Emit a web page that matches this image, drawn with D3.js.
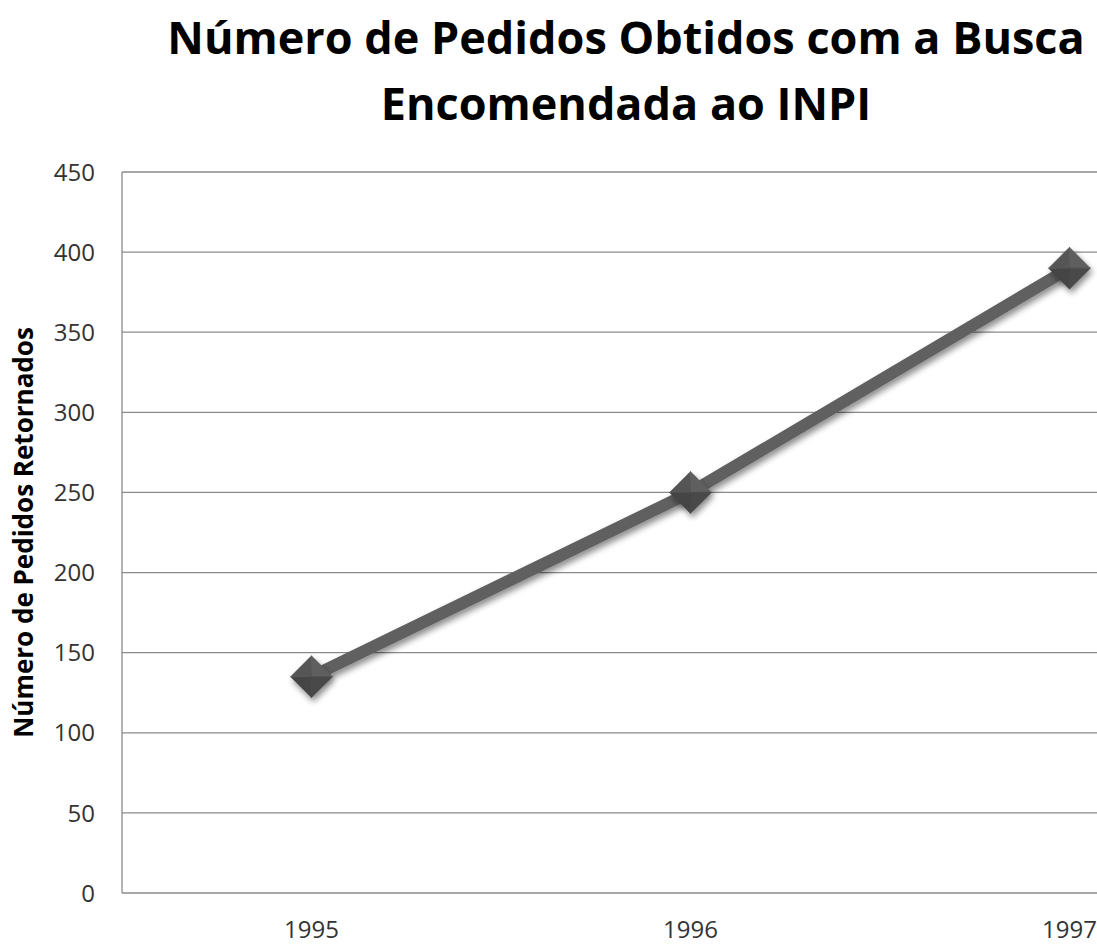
<!DOCTYPE html>
<html>
<head>
<meta charset="utf-8">
<script src="https://cdn.jsdelivr.net/npm/d3@7"></script>
<style>
  html, body { margin: 0; padding: 0; background: #fff; }
  svg { display: block; }
</style>
</head>
<body>
<div id="chart"></div>
<script>
var years = ['1995', '1996', '1997']
var pedidos = [135, 250, 390]
var yTicks = [0, 50, 100, 150, 200, 250, 300, 350, 400, 450]
var titleLines = ['Número de Pedidos Obtidos com a Busca', 'Encomendada ao INPI']
var yTitle = 'Número de Pedidos Retornados'

var width = 1097
var height = 944
var plot = { left: 122, top: 172, bottom: 893, right: 122 + 379 * 3 }

var svg = d3.select('#chart').append('svg')
  .attr('width', width)
  .attr('height', height)

var defs = svg.append('defs')
var shadow = defs.append('filter').attr('id', 'shadow')
  .attr('x', '-50%').attr('y', '-50%').attr('width', '200%').attr('height', '200%')
shadow.append('feGaussianBlur').attr('in', 'SourceAlpha').attr('stdDeviation', 3)
shadow.append('feOffset').attr('dx', 2).attr('dy', 4).attr('result', 'blur')
shadow.append('feComponentTransfer').append('feFuncA').attr('type', 'linear').attr('slope', 0.45)
var merge = shadow.append('feMerge')
merge.append('feMergeNode')
merge.append('feMergeNode').attr('in', 'SourceGraphic')

var x = d3.scalePoint()
  .domain(years)
  .range([plot.left, plot.right])
  .padding(0.5)

var y = d3.scaleLinear()
  .domain([0, 450])
  .range([plot.bottom, plot.top])

// gridlines
svg.append('g')
  .selectAll('line')
  .data(yTicks)
  .enter().append('line')
  .attr('x1', plot.left)
  .attr('x2', width)
  .attr('y1', function (d) { return y(d) })
  .attr('y2', function (d) { return y(d) })
  .attr('stroke', '#8a8a8a')
  .attr('stroke-width', 1.3)

svg.append('line')
  .attr('x1', plot.left).attr('x2', plot.left)
  .attr('y1', plot.top).attr('y2', plot.bottom)
  .attr('stroke', '#8a8a8a')
  .attr('stroke-width', 1.3)

// y tick labels
svg.append('g')
  .selectAll('text')
  .data(yTicks)
  .enter().append('text')
  .attr('x', 95)
  .attr('y', function (d) { return y(d) })
  .attr('dy', '0.36em')
  .attr('text-anchor', 'end')
  .style('font-family', 'Open Sans, sans-serif')
  .style('font-size', '24px')
  .style('fill', '#333')
  .text(function (d) { return d })

// x tick labels
svg.append('g')
  .selectAll('text')
  .data(years)
  .enter().append('text')
  .attr('x', function (d) { return x(d) })
  .attr('y', 938)
  .attr('text-anchor', 'middle')
  .style('font-family', 'Open Sans, sans-serif')
  .style('font-size', '24px')
  .style('fill', '#333')
  .text(function (d) { return d })

// y title
svg.append('text')
  .attr('transform', 'translate(33,' + ((plot.top + plot.bottom) / 2) + ') rotate(-90)')
  .attr('text-anchor', 'middle')
  .style('font-family', 'Open Sans, sans-serif')
  .style('font-weight', 'bold')
  .style('font-size', '26px')
  .style('fill', '#000')
  .text(yTitle)

// title
svg.append('g')
  .selectAll('text')
  .data(titleLines)
  .enter().append('text')
  .attr('x', 626)
  .attr('y', function (d, i) { return 54 + i * 66 })
  .attr('text-anchor', 'middle')
  .style('font-family', 'Open Sans, sans-serif')
  .style('font-weight', 'bold')
  .style('font-size', '45px')
  .style('fill', '#000')
  .text(function (d) { return d })

var points = years.map(function (yr, i) { return { year: yr, value: pedidos[i] } })

var line = d3.line()
  .x(function (d) { return x(d.year) })
  .y(function (d) { return y(d.value) })

svg.append('path')
  .datum(points)
  .attr('d', line)
  .attr('fill', 'none')
  .attr('stroke', '#616161')
  .attr('stroke-width', 12)
  .attr('filter', 'url(#shadow)')

// diamond markers with bevel
var r = 21
var markers = svg.append('g')
  .selectAll('g')
  .data(points)
  .enter().append('g')
  .attr('transform', function (d) { return 'translate(' + x(d.year) + ',' + y(d.value) + ')' })
  .attr('filter', 'url(#shadow)')

var faces = [
  { pts: [[0, -r], [r, 0], [0, 0]], fill: '#5e5e5e' },
  { pts: [[r, 0], [0, r], [0, 0]], fill: '#4a4a4a' },
  { pts: [[0, r], [-r, 0], [0, 0]], fill: '#444444' },
  { pts: [[-r, 0], [0, -r], [0, 0]], fill: '#555555' }
]

markers.selectAll('path')
  .data(faces)
  .enter().append('path')
  .attr('d', function (f) { return 'M' + f.pts.map(function (p) { return p.join(',') }).join('L') + 'Z' })
  .attr('fill', function (f) { return f.fill })
  .attr('stroke', function (f) { return f.fill })
  .attr('stroke-width', 0.5)
</script>
</body>
</html>
